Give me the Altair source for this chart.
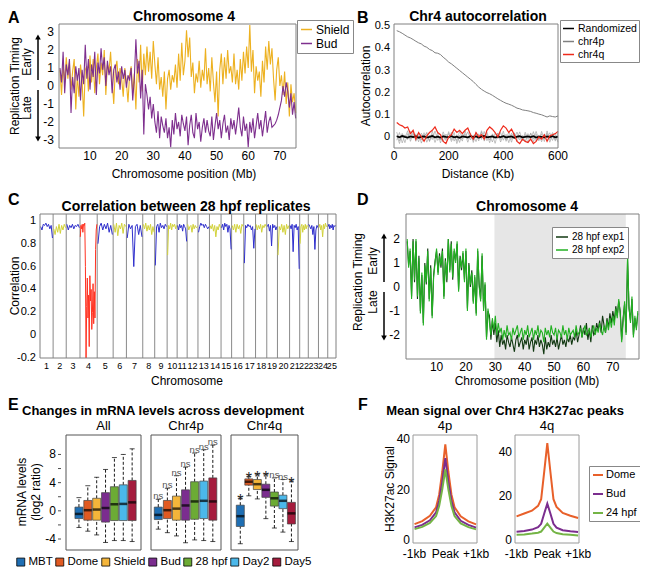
import altair as alt
import pandas as pd

FONT = "Liberation Sans"
W, H = 632, 560
ONE = pd.DataFrame({"k": [0]})

# ------------------------------------------------------------------ Panel A
A_shield = [
    0.9, -0.5, 1.2, 0.2, 1.6, 0.4, 1.3, -0.2, 0.8, 1.5,
    -1.3, 0.6, -0.6, 1.2, 0.3, -1.7, 0.9, 1.1, -0.3, 1.7,
    0.2, 1.5, -0.4, 1.0, 1.8, 0.1, 1.3, 0.6, 2.0, -0.5,
    1.2, 0.8, 1.9, 0.3, -1.0, 0.9, 1.4, 0.1, 1.0, 0.4,
    -0.6, 1.0, 0.2, -0.9, 0.6, 1.1, -0.4, 0.7, -1.3, 1.5,
    0.2, 2.3, -0.3, 1.8, 0.6, 2.2, 0.8, 1.9, 0.4, 2.5,
    1.2, 0.1, 1.6, -0.2, 0.5, -0.6, 0.8, -1.3, 0.4, 0.9,
    -0.2, 0.6, 0.2, 1.2, -0.1, 1.8, 0.3, 2.4, 0.6, 1.4,
    3.1, 1.6, 2.7, 0.5, 1.3, -0.4, 0.7, 0.2, 1.4, -0.1,
    0.9, 0.3, 2.1, 0.1, 1.0, -0.3, 1.6, 0.2, -0.9, 0.8,
    -1.7, 0.9, 1.8, 0.1, 1.6, 0.4, 2.0, 0.7, 1.1, 0.2,
    1.8, 0.1, 0.9, -0.2, 1.5, 0.3, 1.9, 0.7, 2.2, 1.0,
    3.4, 0.8, 2.0, -0.4, 1.1, 0.3, 0.8, -0.6, 1.4, 0.2,
    2.2, 0.9, 2.5, 1.2, 2.1, 0.4, -0.8, 0.9, 1.6, 0.0,
    0.6, -0.5, 0.8, -1.0, 0.2, -1.7, 0.1, -0.9, -0.4, -1.5,
]
A_bud = [
    1.0, 0.2, 1.9, -0.4, 1.2, 0.6, 1.5, -1.5, 0.5, -0.4,
    1.1, 0.3, 1.0, -0.8, 0.9, 0.1, 2.3, 0.4, 1.5, -0.2,
    1.2, 0.5, 1.9, -0.5, 1.3, 0.7, 2.1, 0.9, 1.6, 0.0,
    1.4, 0.6, 1.1, -0.4, 0.9, 1.2, 0.2, 0.8, -0.2, 1.1,
    0.4, 0.9, -0.1, 0.6, 0.3, 1.0, -0.8, 0.4, 2.6, 0.7,
    1.4, -0.7, 0.9, -2.7, 0.1, -0.5, -1.3, -0.6, -1.8, -1.0,
    -2.0, -2.6, -1.4, -2.9, -1.7, -2.2, -2.6, -1.8, -2.9, -2.3,
    -3.4, -1.9, -2.7, -1.5, -2.4, -2.0, -2.8, -1.6, -2.1, -2.5,
    -1.7, -3.3, -2.2, -1.6, -2.6, -2.9, -1.5, -2.4, -2.0, -3.1,
    -2.3, -1.8, -2.6, -1.9, -2.5, -2.8, -1.7, -3.0, -2.2, -1.5,
    -2.4, -1.9, -2.9, -2.1, -1.6, -2.6, -2.2, -3.0, -1.8, -2.4,
    -1.9, -2.7, -2.0, -1.2, -2.3, -2.8, -1.7, -2.5, -2.1, -3.4,
    -2.0, -2.6, -1.8, -2.9, -2.2, -1.5, -2.4, -1.9, -2.8, -2.1,
    -1.4, -2.6, -2.0, -1.7, -2.3, -2.2, -2.1, -1.9, -1.6, -1.2,
    -0.8, 0.0, -0.6, 0.2, -0.3, -1.2, -0.4, -1.6, -0.9, -1.8,
]
A_step_mb = 0.5
A_xticks = [10, 20, 30, 40, 50, 60, 70]
A_yticks = [-3, -2, -1, 0, 1, 2, 3]

# ------------------------------------------------------------------ Panel B
B_dist = list(range(10, 601, 10))
B_chr4p = [
    0.48, 0.475, 0.468, 0.46, 0.452, 0.447, 0.44, 0.432, 0.425, 0.42,
    0.41, 0.405, 0.395, 0.39, 0.38, 0.378, 0.372, 0.36, 0.35, 0.338,
    0.33, 0.32, 0.31, 0.30, 0.29, 0.28, 0.27, 0.26, 0.25, 0.237,
    0.225, 0.215, 0.207, 0.20, 0.195, 0.188, 0.18, 0.172, 0.165, 0.158,
    0.152, 0.148, 0.143, 0.137, 0.13, 0.127, 0.122, 0.12, 0.118, 0.115,
    0.11, 0.107, 0.103, 0.10, 0.095, 0.09, 0.095, 0.092, 0.09, 0.095,
]
B_chr4q = [
    0.065, 0.055, 0.05, 0.04, 0.045, 0.015, 0.03, -0.01, 0.02, 0.0,
    -0.02, 0.005, 0.02, 0.03, 0.045, 0.02, 0.01, -0.02, -0.03, 0.0,
    0.01, 0.035, 0.02, 0.03, 0.015, 0.03, 0.04, 0.01, -0.01, 0.02,
    0.0, 0.01, -0.01, 0.03, 0.045, 0.035, 0.02, 0.0, 0.03, 0.05,
    0.04, 0.02, 0.035, 0.01, -0.02, -0.03, -0.01, -0.02, -0.025, -0.01,
    -0.03, -0.02, 0.0, -0.01, 0.01, -0.02, 0.005, 0.01, 0.015, 0.025,
]
B_rand = [
    0.003, -0.002, 0.004, 0.0, -0.003, 0.002, -0.001, 0.003, -0.004, 0.001,
    0.002, -0.003, 0.0, 0.004, -0.002, 0.001, -0.003, 0.002, 0.0, -0.001,
    0.003, -0.002, 0.001, -0.004, 0.002, 0.0, -0.002, 0.003, -0.001, 0.002,
    -0.003, 0.001, 0.004, -0.002, 0.0, 0.002, -0.003, 0.001, -0.001, 0.003,
    -0.002, 0.0, 0.002, -0.004, 0.001, 0.003, -0.002, 0.0, 0.002, -0.001,
    0.003, -0.003, 0.001, 0.0, -0.002, 0.002, -0.001, 0.003, -0.002, 0.001,
]
B_noise = [
    [0.022, -0.018, 0.011, -0.026, 0.015, -0.009, 0.024, -0.02, 0.006, -0.014,
     0.019, -0.024, 0.008, -0.012, 0.027, -0.016, 0.004, -0.022, 0.013, -0.007,
     0.021, -0.019, 0.01, -0.025, 0.016, -0.004, 0.023, -0.013, 0.009, -0.021,
     0.014, -0.011, 0.025, -0.017, 0.005, -0.023, 0.018, -0.008, 0.02, -0.015,
     0.012, -0.026, 0.017, -0.006, 0.022, -0.014, 0.007, -0.02, 0.015, -0.01,
     0.024, -0.018, 0.009, -0.022, 0.013, -0.005, 0.019, -0.016, 0.011, -0.024],
    [-0.015, 0.02, -0.027, 0.009, -0.012, 0.025, -0.006, 0.014, -0.022, 0.017,
     -0.004, 0.021, -0.018, 0.012, -0.025, 0.008, -0.014, 0.023, -0.01, 0.016,
     -0.021, 0.005, -0.017, 0.026, -0.009, 0.013, -0.024, 0.01, -0.015, 0.02,
     -0.007, 0.022, -0.019, 0.011, -0.026, 0.014, -0.005, 0.018, -0.023, 0.009,
     -0.013, 0.024, -0.011, 0.016, -0.02, 0.006, -0.016, 0.021, -0.008, 0.015,
     -0.022, 0.012, -0.018, 0.025, -0.01, 0.017, -0.024, 0.007, -0.013, 0.02],
    [0.008, -0.03, 0.016, -0.005, 0.028, -0.02, 0.012, -0.011, 0.019, -0.028,
     0.005, 0.015, -0.021, 0.026, -0.008, 0.018, -0.027, 0.01, -0.016, 0.024,
     -0.012, 0.02, -0.03, 0.007, -0.019, 0.027, -0.01, 0.017, -0.025, 0.013,
     -0.018, 0.028, -0.006, 0.021, -0.014, 0.01, -0.029, 0.016, -0.011, 0.026,
     -0.02, 0.009, -0.024, 0.019, -0.007, 0.023, -0.015, 0.011, -0.027, 0.018,
     -0.009, 0.025, -0.013, 0.014, -0.021, 0.027, -0.012, 0.02, -0.019, 0.006],
]
B_xticks = [0, 200, 400, 600]
B_yticks = [0, 0.1, 0.2, 0.3, 0.4, 0.5]

# ------------------------------------------------------------------ Panel C
C_lengths = [59.6, 59.6, 62.6, 78.1, 72.5, 60.3, 74.3, 54.3, 56.5, 45.4, 45.5, 49.2, 52.2,
             52.7, 48.0, 55.3, 53.5, 51.0, 48.5, 55.2, 45.9, 39.1, 46.2, 42.2, 37.5]
C_corr = [
    [0.95, 0.92, 0.97, 0.96, 0.98, 0.95, 0.97, 0.93, 0.96, 0.85],
    [0.93, 0.88, 0.95, 0.90, 0.97, 0.89, 0.96, 0.92, 0.97, 0.94],
    [0.97, 0.92, 0.96, 0.94, 0.97, 0.93, 0.96, 0.95, 0.97, 0.94],
    [0.86, 0.96, 0.93, 0.97, 0.90, 0.97, 0.96, 0.98, 0.60, -0.30, 0.25, 0.50, 0.15, 0.35,
     -0.10, 0.52, 0.30, 0.40, 0.05, 0.20, 0.45, 0.10, 0.38, 0.15, 0.75, 0.92, 0.97],
    [0.80, 0.95, 0.98, 0.92, 0.97, 0.93, 0.98, 0.90, 0.96, 0.88],
    [0.97, 0.90, 0.98, 0.87, 0.96, 0.93, 0.98, 0.89, 0.97, 0.95],
    [0.85, 0.97, 0.93, 0.96, 0.60, 0.95, 0.97, 0.88, 0.96, 0.86],
    [0.97, 0.93, 0.98, 0.91, 0.96, 0.92, 0.97, 0.88, 0.95, 0.90],
    [0.61, 0.95, 0.97, 0.90, 0.98, 0.94, 0.96, 0.93, 0.97, 0.95],
    [0.70, 0.96, 0.93, 0.98, 0.92, 0.97, 0.95, 0.97, 0.93, 0.96],
    [0.96, 0.92, 0.97, 0.94, 0.96, 0.91, 0.97, 0.95, 0.93, 0.82],
    [0.97, 0.92, 0.95, 0.96, 0.90, 0.97, 0.93, 0.96, 0.94, 0.95],
    [0.90, 0.95, 0.98, 0.96, 0.97, 0.94, 0.97, 0.95, 0.93, 0.95],
    [0.96, 0.93, 0.97, 0.91, 0.96, 0.86, 0.95, 0.92, 0.97, 0.94],
    [0.94, 0.97, 0.92, 0.98, 0.95, 0.97, 0.90, 0.96, 0.93, 0.75],
    [0.96, 0.92, 0.97, 0.90, 0.97, 0.93, 0.96, 0.89, 0.97, 0.95],
    [0.63, 0.96, 0.94, 0.97, 0.95, 0.96, 0.92, 0.95, 0.76, 0.93],
    [0.97, 0.92, 0.96, 0.93, 0.97, 0.90, 0.96, 0.94, 0.97, 0.95],
    [0.95, 0.97, 0.91, 0.96, 0.78, 0.97, 0.94, 0.96, 0.92, 0.95],
    [0.70, 0.95, 0.92, 0.97, 0.90, 0.96, 0.88, 0.97, 0.93, 0.96],
    [0.96, 0.93, 0.97, 0.73, 0.96, 0.94, 0.97, 0.92, 0.95, 0.58],
    [0.80, 0.95, 0.97, 0.90, 0.96, 0.92, 0.97, 0.93, 0.96, 0.95],
    [0.97, 0.95, 0.93, 0.96, 0.88, 0.95, 0.75, 0.92, 0.96, 0.94],
    [0.94, 0.97, 0.92, 0.96, 0.86, 0.97, 0.93, 0.98, 0.95, 0.96],
    [0.95, 0.97, 0.93, 0.96, 0.94, 0.97, 0.92, 0.96, 0.95, 0.96],
]
C_yticks = [-0.2, 0, 0.2, 0.4, 0.6, 0.8, 1]

# ------------------------------------------------------------------ Panel D
D_exp2 = [
    2.0, 0.8, 1.6, -0.5, 1.9, 0.3, 2.0, -0.4, 1.2, -1.1,
    0.6, -1.6, 0.9, 0.2, 1.5, -0.6, 0.8, -1.3, 0.4, 1.0,
    1.6, 0.5, 1.3, 0.9, 1.5, -0.5, 1.1, 0.3, 2.0, 0.6,
    1.8, 0.4, 1.6, 1.0, 1.9, -0.2, 1.2, 0.8, 1.5, 0.2,
    1.6, -1.0, 0.9, 0.1, 0.6, -0.7, 0.5, -1.2, 1.6, 0.0,
    -0.6, 1.4, -1.0, 0.2, -2.2, -0.9, -1.5, -2.0, -1.3, -1.8,
    -1.2, -2.0, -1.5, -1.9, -1.7, -2.2, -1.8, -2.1, -1.6, -2.0,
    -1.9, -2.2, -1.7, -2.0, -1.8, -1.6, -2.1, -1.9, -1.7, -2.2,
    -1.8, -2.0, -1.6, -2.1, -1.9, -1.7, -2.2, -1.8, -2.0, -1.6,
    -2.1, -1.8, -1.9, -2.3, -1.7, -2.0, -1.8, -2.1, -1.6, -1.9,
    -2.0, -1.7, -2.2, -1.8, -1.9, -2.1, -1.6, -2.0, -1.8, -2.2,
    -1.7, -2.0, -1.9, -1.8, -2.1, -1.6, -2.0, -1.9, -1.7, -2.1,
    -1.8, -1.6, -2.0, -1.9, -1.7, -2.1, -1.8, -1.6, -2.0, -1.7,
    -1.9, -1.5, -1.8, -2.0, -1.6, -1.9, -1.4, -1.8, -1.3, -1.7,
    -1.2, -1.6, -0.9, -1.3, -0.5, -1.1, -2.3, -1.4, -0.6, -2.0,
    1.3, -0.8, -1.5, -0.4, -2.1, -1.2, -1.8, -1.0,
]
D_exp1 = [
    1.9, 0.9, 1.5, -0.4, 2.0, 0.2, 1.9, -0.5, 1.3, -1.0,
    0.5, -1.5, 1.0, 0.1, 1.6, -0.5, 0.9, -1.2, 0.5, 1.1,
    1.5, 0.6, 1.4, 0.8, 1.6, -0.4, 1.2, 0.2, 2.0, 0.7,
    1.9, 0.3, 1.5, 1.1, 1.8, -0.1, 1.3, 0.7, 1.4, 0.3,
    1.5, -0.9, 1.0, 0.0, 0.7, -0.6, 0.4, -1.1, 1.5, 0.1,
    -0.5, 1.3, -0.9, 0.1, -2.1, -1.0, -1.2, -2.2, -1.4, -2.0,
    -1.5, -2.3, -1.8, -2.5, -2.0, -2.4, -2.2, -2.6, -2.0, -2.3,
    -2.5, -2.1, -2.4, -2.7, -2.2, -2.0, -2.5, -2.3, -2.1, -2.6,
    -2.2, -2.4, -2.0, -2.6, -2.3, -2.1, -2.7, -2.2, -2.4, -2.0,
    -2.5, -2.2, -2.4, -2.8, -2.1, -2.6, -2.3, -2.5, -2.0, -2.4,
    -2.2, -2.5, -2.1, -2.6, -2.3, -2.0, -2.4, -2.2, -2.5, -2.1,
    -2.3, -2.0, -2.4, -2.1, -2.2, -1.8, -2.3, -2.0, -1.6, -2.1,
    -1.7, -2.0, -1.5, -2.2, -1.8, -2.3, -1.6, -2.0, -1.9, -1.5,
    -1.8, -1.4, -1.9, -1.2, -1.6, -1.9, -1.3, -1.7, -1.1, -1.5,
    -1.0, -1.4, -0.8, -1.2, -0.6, -1.0, -2.2, -1.3, -0.7, -1.9,
    1.2, -0.9, -1.4, -0.5, -2.0, -1.3, -1.7, -1.1,
]
D_step_mb = 0.5
D_shade = [29.7, 74.4]
D_xticks = [10, 20, 30, 40, 50, 60, 70]
D_yticks = [-2, -1, 0, 1, 2]

# ------------------------------------------------------------------ Panel E
E_stages = ["MBT", "Dome", "Shield", "Bud", "28 hpf", "Day2", "Day5"]
E_colors = ["#1F6FB4", "#E05A22", "#F4B53A", "#7B2D8F", "#6CAB35", "#4BB8EA", "#A51C3D"]
E_lo = {"All": [-2.36, -2.89, -3.42, -4.49, -4.22, -4.22, -4.36],
        "Chr4p": [-2.6, -3.1, -3.56, -4.53, -4.13, -4.22, -4.36],
        "Chr4q": [-4.67, 2.13, 1.69, -1.11, -2.44, -3.02, -4.36]}
E_q1 = {"All": [-1.1, -1.33, -1.33, -1.6, -1.38, -1.38, -1.38],
        "Chr4p": [-1.24, -1.1, -1.33, -1.33, -1.2, -1.1, -1.33],
        "Chr4q": [-2.22, 3.64, 3.02, 1.91, 0.67, 0.31, -1.87]}
E_med = {"All": [-0.44, 0.09, 0.18, 0.4, 0.93, 0.98, 1.2],
         "Chr4p": [-0.58, 0.09, 0.31, 0.76, 1.33, 1.42, 1.33],
         "Chr4q": [-0.76, 4.13, 3.78, 2.98, 1.78, 1.42, -0.36]}
E_q3 = {"All": [0.53, 1.47, 1.78, 2.58, 3.42, 3.69, 4.31],
        "Chr4p": [0.53, 1.47, 2.09, 2.98, 4.13, 4.22, 4.67],
        "Chr4q": [0.8, 4.53, 4.44, 3.78, 2.67, 2.22, 1.2]}
E_hi = {"All": [1.87, 3.56, 4.76, 5.87, 7.56, 8.0, 8.8],
        "Chr4p": [1.64, 3.2, 4.98, 6.2, 8.2, 8.67, 9.33],
        "Chr4q": [1.78, 4.89, 5.11, 5.11, 4.67, 4.44, 4.22]}
E_ann = {"All": ["", "", "", "", "", "", ""],
         "Chr4p": ["ns", "ns", "ns", "ns", "ns", "ns", "ns"],
         "Chr4q": ["*", "*", "*", "*", "ns", "ns", "*"]}
E_yticks = [-4, 0, 4, 8]
E_yminor = [-4, -2, 0, 2, 4, 6, 8]

# ------------------------------------------------------------------ Panel F
F_x = [-1.0, -0.75, -0.5, -0.3, -0.2, -0.1, 0.0, 0.1, 0.2, 0.3, 0.5, 0.75, 1.0]
F_series = ["Dome", "Bud", "24 hpf"]
F_colors = ["#E8602A", "#7B2D8E", "#74B445"]
F_4p = {"Dome": [6.3, 7.5, 9.6, 13.0, 18.0, 27.0, 38.0, 27.0, 18.0, 13.0, 9.4, 7.4, 6.2],
        "Bud": [5.0, 6.0, 7.8, 11.0, 15.5, 23.0, 32.5, 23.0, 15.5, 11.0, 7.6, 6.0, 4.9],
        "24 hpf": [4.3, 5.2, 6.8, 9.5, 13.5, 20.0, 28.0, 20.0, 13.5, 9.5, 6.6, 5.1, 4.2]}
F_4q = {"Dome": [10.7, 12.0, 13.3, 15.5, 18.5, 31.0, 44.0, 31.0, 18.5, 15.0, 12.3, 11.0, 10.0],
        "Bud": [3.7, 4.1, 4.7, 5.8, 7.3, 12.0, 16.5, 12.0, 7.3, 5.6, 4.4, 3.9, 3.6],
        "24 hpf": [2.3, 2.5, 2.9, 3.3, 3.8, 5.6, 7.4, 5.6, 3.8, 3.1, 2.6, 2.3, 2.0]}
F_xticks = [-1, 0, 1]
F_xlabels = ["-1kb", "Peak", "+1kb"]
F_yticks = [0, 20, 40]


# ================================================================== helpers
def sc(dom, rng, **kw):
    return alt.Scale(domain=dom, range=rng, nice=False, zero=False, **kw)


def fmt(v):
    return f"{v:g}"


def ylab(values, ys, x_right, fs=12, labels=None):
    labels = labels if labels is not None else [fmt(v) for v in values]
    df = pd.DataFrame({"v": values, "lab": labels})
    return alt.Chart(df).mark_text(align="right", baseline="middle", fontSize=fs, font=FONT,
                                   color="black").encode(
        x=alt.value(x_right), y=alt.Y("v:Q", scale=ys, axis=None), text="lab:N")


def xlab(values, xs, y_mid, fs=12, labels=None):
    labels = labels if labels is not None else [fmt(v) for v in values]
    df = pd.DataFrame({"v": values, "lab": labels})
    return alt.Chart(df).mark_text(align="center", baseline="middle", fontSize=fs, font=FONT,
                                   color="black").encode(
        x=alt.X("v:Q", scale=xs, axis=None), y=alt.value(y_mid), text="lab:N")


def txt(s, x, y, size=12, weight="normal", angle=0, align="center",
        baseline="alphabetic", color="black"):
    return alt.Chart(pd.DataFrame({"t": [s]})).mark_text(
        fontSize=size, fontWeight=weight, angle=angle, align=align,
        baseline=baseline, color=color, font=FONT
    ).encode(text="t:N", x=alt.value(x), y=alt.value(y))


def frame(xs, ys, xd, yd, color="#808080"):
    return alt.Chart(ONE).mark_rect(fillOpacity=0, stroke=color, strokeWidth=1).encode(
        x=alt.XDatum(xd[0], scale=xs, axis=None), x2=alt.datum(xd[1]),
        y=alt.YDatum(yd[0], scale=ys, axis=None), y2=alt.datum(yd[1]))


def arrow(x, y_top, y_bot, head_up):
    rule = alt.Chart(ONE).mark_rule(color="black", strokeWidth=1.5).encode(
        x=alt.value(x), y=alt.value(y_top), y2=alt.value(y_bot))
    hy = y_top - 2 if head_up else y_bot + 2
    head = alt.Chart(ONE).mark_point(
        shape="triangle-up" if head_up else "triangle-down", filled=True,
        size=32, color="black", opacity=1).encode(x=alt.value(x), y=alt.value(hy))
    return [rule, head]


def line_legend(x, y, fs, sym=121, pad=3, rowpad=1, sw=1.5, offset=3):
    return alt.Legend(orient="none", legendX=x, legendY=y, title=None,
                      symbolType="stroke", symbolStrokeWidth=sw, symbolSize=sym,
                      labelFontSize=fs, labelFont=FONT, labelColor="black",
                      padding=pad, strokeColor="#888888", fillColor="white",
                      rowPadding=rowpad, labelOffset=offset, labelLimit=300)


# ================================================================== Panel A
A_x0, A_x1, A_top, A_bot = 51, 288, 16, 140
A_xd, A_yd = [0.2, 75.1], [-3.45, 3.45]
axs = sc(A_xd, [A_x0, A_x1])
ays = sc(A_yd, [A_bot, A_top])
nA = len(A_shield)
A_pos = [A_step_mb * (i + 1) for i in range(nA)]
dfA = pd.DataFrame({"pos": A_pos + A_pos, "val": A_shield + A_bud,
                    "series": ["Shield"] * nA + ["Bud"] * nA})
A_col = alt.Color("series:N", scale=alt.Scale(domain=["Shield", "Bud"], range=["#EDB120", "#7E2F8E"]),
                  legend=line_legend(289, 12, 12))
A_layers = [
    alt.Chart(dfA).transform_filter("datum.series == 'Shield'").mark_line(strokeWidth=1.1).encode(
        x=alt.X("pos:Q", scale=axs, axis=None), y=alt.Y("val:Q", scale=ays, axis=None), color=A_col),
    alt.Chart(dfA).transform_filter("datum.series == 'Bud'").mark_line(strokeWidth=1.1).encode(
        x=alt.X("pos:Q", scale=axs, axis=None), y=alt.Y("val:Q", scale=ays, axis=None), color=A_col),
    frame(axs, ays, A_xd, A_yd),
    ylab(A_yticks, ays, A_x0 - 5),
    xlab(A_xticks, axs, A_bot + 8),
    txt("Chromosome position (Mb)", 176, 170, 12),
    txt("A", 0, 15, 16, "bold", align="left"),
    txt("Chromosome 4", 176, 13, 14, "bold"),
    txt("Replication Timing", 7, 78, 12, angle=270, baseline="middle"),
    txt("Early", 19, 54, 12, angle=270, baseline="middle"),
    txt("Late", 19, 100, 12, angle=270, baseline="middle"),
] + arrow(30, 31, 72, True) + arrow(30, 82, 129, False)

# ================================================================== Panel B
B_x0, B_x1, B_top, B_bot = 386, 550, 16, 140
B_xd, B_yd = [0, 600], [-0.05, 0.51]
bxs = sc(B_xd, [B_x0, B_x1])
bys = sc(B_yd, [B_bot, B_top])
rows = []
for k, arr in enumerate(B_noise):
    for d, v in zip(B_dist, arr):
        rows.append({"d": d, "v": v, "rep": k})
dfBn = pd.DataFrame(rows)
rows = []
for name, arr in [("Randomized", B_rand), ("chr4p", B_chr4p), ("chr4q", B_chr4q)]:
    for d, v in zip(B_dist, arr):
        rows.append({"d": d, "v": v, "series": name})
dfB = pd.DataFrame(rows)
B_col = alt.Color("series:N", scale=alt.Scale(domain=["Randomized", "chr4p", "chr4q"],
                                              range=["#000000", "#808080", "#EE2A1B"]),
                  legend=line_legend(552, 12, 10.5, sym=121, pad=2))
B_layers = [
    alt.Chart(dfBn).mark_line(color="#9a9a9a", strokeWidth=0.6).encode(
        x=alt.X("d:Q", scale=bxs, axis=None), y=alt.Y("v:Q", scale=bys, axis=None), detail="rep:N"),
]
for name, sw in [("Randomized", 1.8), ("chr4p", 1.0), ("chr4q", 1.2)]:
    B_layers.append(alt.Chart(dfB).transform_filter(f"datum.series == '{name}'").mark_line(strokeWidth=sw).encode(
        x=alt.X("d:Q", scale=bxs, axis=None), y=alt.Y("v:Q", scale=bys, axis=None), color=B_col))
B_layers += [
    frame(bxs, bys, B_xd, B_yd),
    ylab(B_yticks, bys, B_x0 - 4, fs=11),
    xlab(B_xticks, bxs, B_bot + 8),
    txt("Distance (Kb)", 470, 170, 12),
    txt("B", 349, 15, 16, "bold", align="left"),
    txt("Chr4 autocorrelation", 470, 13, 14, "bold"),
    txt("Autocorrelation", 358, 78, 12, angle=270, baseline="middle"),
]

# ================================================================== Panel C
C_x0, C_x1, C_top, C_bot = 32, 328, 206, 350
total = sum(C_lengths)
C_xd, C_yd = [0, total], [-0.2, 1.06]
cxs = sc(C_xd, [C_x0, C_x1])
cys = sc(C_yd, [C_bot, C_top], clamp=True)
rows, starts, centers = [], [], []
s = 0.0
for ci, (L, vals) in enumerate(zip(C_lengths, C_corr)):
    chrom = ci + 1
    grp = "chr4" if chrom == 4 else ("odd" if chrom % 2 else "even")
    n = len(vals)
    for j, v in enumerate(vals):
        rows.append({"pos": s + (j + 0.5) * L / n, "val": v, "chrom": chrom, "grp": grp})
    starts.append(s)
    centers.append(s + L / 2)
    s += L
dfC = pd.DataFrame(rows)
dfCb = pd.DataFrame({"b": starts[1:]})
C_layers = [
    alt.Chart(dfCb).mark_rule(color="#8a8a8a", strokeWidth=1).encode(
        x=alt.X("b:Q", scale=cxs, axis=None),
        y=alt.YDatum(C_yd[0], scale=cys, axis=None), y2=alt.datum(C_yd[1])),
    alt.Chart(dfC).mark_line(strokeWidth=1).encode(
        x=alt.X("pos:Q", scale=cxs, axis=None), y=alt.Y("val:Q", scale=cys, axis=None),
        detail="chrom:N",
        color=alt.Color("grp:N", scale=alt.Scale(domain=["odd", "even", "chr4"],
                                                 range=["#2E2ECC", "#D2D23A", "#FF3322"]), legend=None)),
    frame(cxs, cys, C_xd, C_yd),
    ylab(C_yticks, cys, C_x0 - 4, fs=11),
    xlab(centers, cxs, C_bot + 8, fs=9, labels=[str(i + 1) for i in range(len(centers))]),
    txt("Chromosome", 179, 377, 12),
    txt("C", 0, 197, 16, "bold", align="left"),
    txt("Correlation between 28 hpf replicates", 178, 203, 14, "bold"),
    txt("Correlation", 7, 278, 12, angle=270, baseline="middle"),
]

# ================================================================== Panel D
D_x0, D_x1, D_top, D_bot = 398, 631, 206, 351
D_xd, D_yd = [-0.4, 78.9], [-3.0, 3.04]
dxs = sc(D_xd, [D_x0, D_x1])
dys = sc(D_yd, [D_bot, D_top])
nD = len(D_exp2)
D_pos = [D_step_mb * i for i in range(nD)]
dfD = pd.DataFrame({"pos": D_pos + D_pos, "val": D_exp1 + D_exp2,
                    "series": ["28 hpf exp1"] * nD + ["28 hpf exp2"] * nD})
D_col = alt.Color("series:N", scale=alt.Scale(domain=["28 hpf exp1", "28 hpf exp2"],
                                              range=["#123812", "#22B022"]),
                  legend=line_legend(544, 219, 10, sym=144))
D_layers = [
    alt.Chart(ONE).mark_rect(color="#e6e6e6").encode(
        x=alt.XDatum(D_shade[0], scale=dxs, axis=None), x2=alt.datum(D_shade[1]),
        y=alt.YDatum(D_yd[0], scale=dys, axis=None), y2=alt.datum(D_yd[1])),
    alt.Chart(dfD).transform_filter("datum.series == '28 hpf exp1'").mark_line(strokeWidth=1.1).encode(
        x=alt.X("pos:Q", scale=dxs, axis=None), y=alt.Y("val:Q", scale=dys, axis=None), color=D_col),
    alt.Chart(dfD).transform_filter("datum.series == '28 hpf exp2'").mark_line(strokeWidth=1.1).encode(
        x=alt.X("pos:Q", scale=dxs, axis=None), y=alt.Y("val:Q", scale=dys, axis=None), color=D_col),
    frame(dxs, dys, D_xd, D_yd),
    ylab(D_yticks, dys, D_x0 - 6),
    xlab(D_xticks, dxs, D_bot + 8),
    txt("Chromosome position (Mb)", 519, 377, 12),
    txt("D", 349, 197, 16, "bold", align="left"),
    txt("Chromosome 4", 519, 203, 14, "bold"),
    txt("Replication Timing", 350, 274, 12, angle=270, baseline="middle"),
    txt("Early", 365, 253, 12, angle=270, baseline="middle"),
    txt("Late", 365, 294, 12, angle=270, baseline="middle"),
] + arrow(376, 230, 274, True) + arrow(376, 284, 328, False)

# ================================================================== Panel E
E_top, E_bot = 427, 542
E_yd = [-5.56, 10.76]
eys = sc(E_yd, [E_bot, E_top])
E_geom = {"All": (53, 138, [-1.46, 7.0]), "Chr4p": (138, 218, [-0.8, 6.9]), "Chr4q": (218, 295, [-1.09, 6.77])}
E_fill_scale = alt.Scale(domain=E_stages, range=E_colors)


def e_panel(g, first):
    x0, x1, xd = E_geom[g]
    exs = sc(xd, [x0, x1])
    df = pd.DataFrame({"idx": list(range(len(E_stages))), "stage": E_stages, "lo": E_lo[g],
                       "q1": E_q1[g], "med": E_med[g], "q3": E_q3[g], "hi": E_hi[g], "ann": E_ann[g]})
    base = alt.Chart(df)
    X = alt.X("idx:Q", scale=exs, axis=None)
    leg = alt.Legend(orient="none", legendX=7, legendY=548, direction="horizontal", title=None,
                     symbolType="square", symbolSize=64, symbolStrokeColor="black",
                     symbolStrokeWidth=0.8, symbolOpacity=1, labelFontSize=11.5, labelFont=FONT,
                     labelColor="black", labelOffset=2, columnPadding=1, padding=0) if first else None
    layers = [
        base.mark_rule(strokeDash=[3, 2], strokeWidth=0.9, color="black").encode(
            x=X, y=alt.Y("q3:Q", scale=eys, axis=None), y2="hi:Q"),
        base.mark_rule(strokeDash=[3, 2], strokeWidth=0.9, color="black").encode(
            x=X, y=alt.Y("lo:Q", scale=eys, axis=None), y2="q1:Q"),
        base.mark_tick(orient="horizontal", size=5, thickness=1, color="black").encode(
            x=X, y=alt.Y("hi:Q", scale=eys, axis=None)),
        base.mark_tick(orient="horizontal", size=5, thickness=1, color="black").encode(
            x=X, y=alt.Y("lo:Q", scale=eys, axis=None)),
        base.mark_bar(size=8, stroke="#444444", strokeWidth=0.7).encode(
            x=X, y=alt.Y("q1:Q", scale=eys, axis=None), y2="q3:Q",
            fill=alt.Fill("stage:N", scale=E_fill_scale, legend=leg)),
        base.mark_tick(orient="horizontal", size=8, thickness=2.5, color="black").encode(
            x=X, y=alt.Y("med:Q", scale=eys, axis=None)),
        base.transform_filter("datum.ann == 'ns'").mark_text(fontSize=9.5, color="#555555", dy=-3, font=FONT).encode(
            x=X, y=alt.Y("hi:Q", scale=eys, axis=None), text="ann:N"),
        base.transform_filter("datum.ann == '*'").mark_text(fontSize=16, color="#222222", dy=3, font=FONT).encode(
            x=X, y=alt.Y("hi:Q", scale=eys, axis=None), text="ann:N"),
        frame(exs, eys, xd, E_yd, color="#555555"),
        txt(g, (x0 + x1) / 2, 422, 13),
    ]
    if first:
        layers += [
            ylab(E_yticks, eys, x0 - 5),
            alt.Chart(pd.DataFrame({"v": E_yminor})).mark_tick(
                orient="horizontal", size=3, thickness=1, color="black").encode(
                x=alt.value(x0 - 1.5), y=alt.Y("v:Q", scale=eys, axis=None)),
        ]
    return alt.layer(*layers)


E_text = alt.layer(
    txt("E", 0, 402, 16, "bold", align="left"),
    txt("Changes in mRNA levels across development", 155, 407, 13, "bold"),
    txt("mRNA levels", 14, 484, 12, angle=270, baseline="middle"),
    txt("(log2 ratio)", 28, 484, 12, angle=270, baseline="middle"),
)

# ================================================================== Panel F
F_top, F_bot = 427, 535
F_xd = [-1.05, 1.03]
F_color = alt.Scale(domain=F_series, range=F_colors)


def f_panel(data, x0, x1, yd, header, legend):
    fxs = sc(F_xd, [x0, x1])
    fys = sc(yd, [F_bot, F_top])
    rows = []
    for name in F_series:
        for xv, v in zip(F_x, data[name]):
            rows.append({"x": xv, "v": v, "series": name})
    df = pd.DataFrame(rows)
    leg = line_legend(581, 458, 11, sym=100, pad=3, rowpad=8, sw=2, offset=2) if legend else None
    return alt.layer(
        alt.Chart(df).mark_line(strokeWidth=2).encode(
            x=alt.X("x:Q", scale=fxs, axis=None), y=alt.Y("v:Q", scale=fys, axis=None),
            color=alt.Color("series:N", scale=F_color, legend=leg)),
        frame(fxs, fys, F_xd, yd, color="#9a9a9a"),
        ylab(F_yticks, fys, x0 - 3),
        xlab(F_xticks, fxs, F_bot + 11, labels=F_xlabels),
        txt(header, (x0 + x1) / 2, 422, 13),
    )


F_text = alt.layer(
    txt("F", 350, 402, 16, "bold", align="left"),
    txt("Mean signal over Chr4 H3K27ac peaks", 497, 407, 13, "bold"),
    txt("H3K27ac Signal", 382, 481, 12, angle=270, baseline="middle"),
)

# ================================================================== assemble
panels = [
    alt.layer(*A_layers), alt.layer(*B_layers), alt.layer(*C_layers), alt.layer(*D_layers),
    e_panel("All", True), e_panel("Chr4p", False), e_panel("Chr4q", False), E_text,
    f_panel(F_4p, 405, 469, [-1.2, 41.7], "4p", False),
    f_panel(F_4q, 507, 571, [-1.4, 47.7], "4q", True), F_text,
]

chart = alt.layer(*panels).resolve_scale(
    x="independent", y="independent", color="independent", fill="independent"
).properties(
    width=W, height=H, padding=0, autosize=alt.AutoSizeParams(type="none")
).configure(font=FONT).configure_view(strokeOpacity=0)

chart.save("out.html", embed_options={"renderer": "svg", "actions": False})
